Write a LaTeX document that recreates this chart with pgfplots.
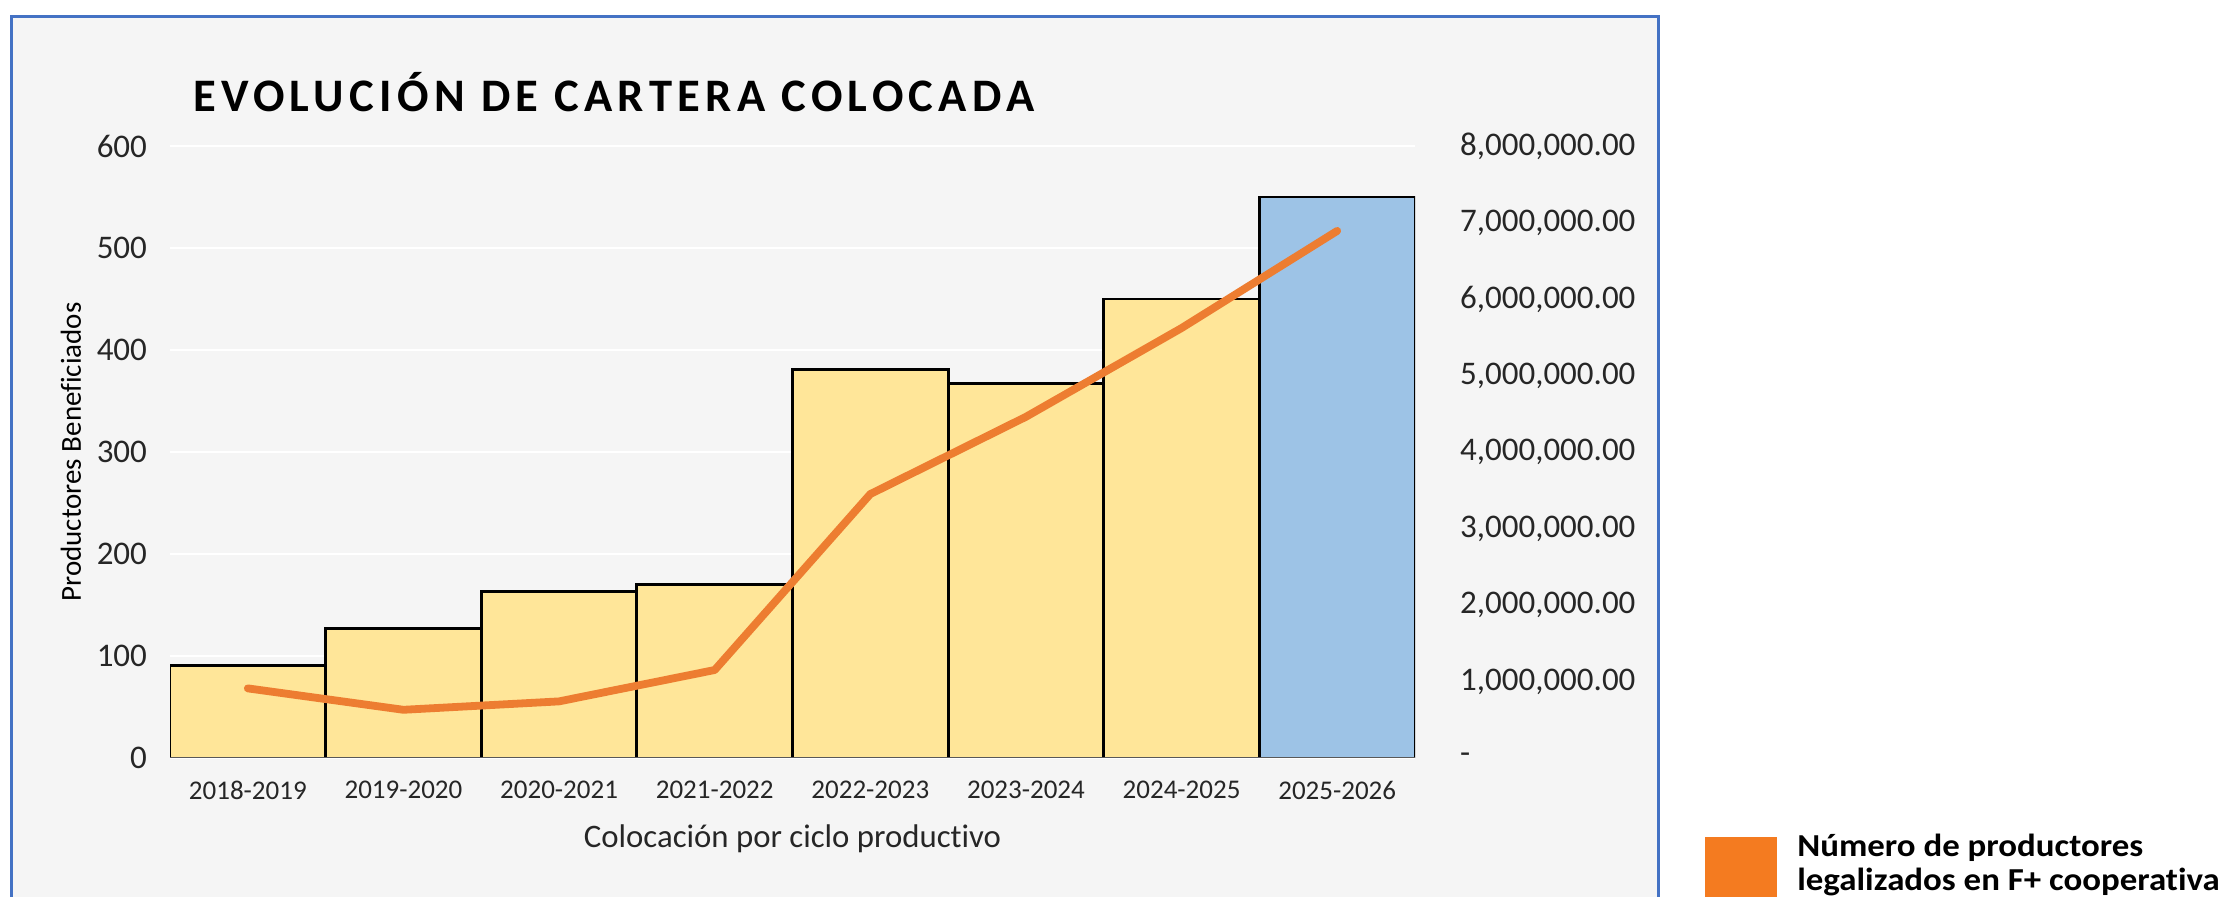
\documentclass[border=0pt]{standalone}
\usepackage{fontspec}
\setmainfont{Carlito}[Ligatures=NoCommon]
\newfontfamily\titlefont[LetterSpace=11.5]{Carlito}
\newfontfamily\legfont[FakeStretch=1.09, Ligatures=NoCommon]{Carlito}
\usepackage{pgfplots}
\pgfplotsset{compat=1.18}

\definecolor{barY}{HTML}{FFE699}
\definecolor{barB}{HTML}{9DC3E6}
\definecolor{lineO}{HTML}{ED7D31}
\definecolor{legO}{HTML}{F47B20}
\definecolor{frameB}{HTML}{4472C4}
\definecolor{bgG}{HTML}{F5F5F5}
\definecolor{axisC}{HTML}{595959}

\begin{document}
\begin{tikzpicture}
\useasboundingbox (0,0) rectangle (1111pt,448.5pt);
\fill[white] (0,0) rectangle (1111pt,448.5pt);
\filldraw[fill=bgG, draw=frameB, line width=1.5pt] (5.5pt,-10pt) rectangle (829pt,440pt);

% bars: productores beneficiados
\begin{axis}[
  at={(85pt,69.5pt)}, anchor=south west,
  scale only axis, width=622.5pt, height=306pt,
  xmin=-0.5, xmax=7.5, ymin=0, ymax=600,
  enlarge x limits=false,
  ybar, bar width=1, bar shift=0pt,
  axis line style={draw=none}, major tick length=0pt,
  ymajorgrids, grid style={color=white, line width=0.8pt},
  xtick={0,1,2,3,4,5,6,7},
  xticklabels={2018-2019,2019-2020,2020-2021,2021-2022,2022-2023,2023-2024,2024-2025,2025-2026},
  ytick={0,100,200,300,400,500,600},
  yticklabels={0,100,200,300,400,500,600},
  xticklabel style={font=\fontsize{13.5}{15}\selectfont, text=black!85, yshift=-8pt},
  yticklabel style={font=\fontsize{16.5}{18}\selectfont, text=black!85, xshift=-8pt},
  xlabel={Colocación por ciclo productivo},
  ylabel={Productores Beneficiados},
  every axis x label/.style={at={(axis description cs:0.5,-0.132)}, anchor=center, font=\fontsize{16.4}{18}\selectfont, text=black!85},
  every axis y label/.style={at={(axis description cs:-0.0795,0.5)}, rotate=90, anchor=center, font=\fontsize{14.5}{16}\selectfont, text=black},
]
\addplot[fill=barY, draw=black, line width=1.4pt] coordinates {
  (0,91) (1,127) (2,163) (3,170) (4,381) (5,367) (6,450)
};
\addplot[fill=barB, draw=black, line width=1.4pt] coordinates {
  (7,550)
};
\draw[axisC, line width=1pt] (axis cs:-0.5,0) -- (axis cs:7.5,0);
\end{axis}

% line: cartera colocada (right axis)
\begin{axis}[
  at={(85pt,69.5pt)}, anchor=south west,
  scale only axis, width=622.5pt, height=306pt,
  xmin=-0.5, xmax=7.5, ymin=0, ymax=8000000,
  axis y line*=right, axis x line=none,
  axis line style={draw=none}, major tick length=0pt,
  scaled y ticks=false,
  ytick={0,1000000,2000000,3000000,4000000,5000000,6000000,7000000,8000000},
  yticklabels={-,{1,000,000.00},{2,000,000.00},{3,000,000.00},{4,000,000.00},{5,000,000.00},{6,000,000.00},{7,000,000.00},{8,000,000.00}},
  yticklabel style={anchor=west, font=\fontsize{16.5}{18}\selectfont, text=black!85, xshift=19pt},
  legend style={at={(1.2329,-0.1176)}, anchor=north west, draw=none, fill=none,
    inner sep=0pt, font=\legfont\bfseries\fontsize{16}{17}\selectfont, cells={align=left}},
  legend image code/.code={\path[draw=none] (0pt,0pt) -- (44pt,0pt);
    \fill[legO, draw=none, overlay] (0pt,-40pt) rectangle (36pt,13.5pt);},
]
\addplot[color=lineO, line width=3.9pt, line join=round, line cap=round, mark=none] coordinates {
  (0,910000) (1,630000) (2,740000) (3,1150000) (4,3450000) (5,4460000) (6,5620000) (7,6890000)
};
\addlegendentry{Número de productores\\legalizados en F+ cooperativa}
\end{axis}

\node[anchor=west, font=\titlefont\bfseries\fontsize{23.3}{26}\selectfont] at (93pt,402.5pt) {EVOLUCIÓN DE CARTERA COLOCADA};
\end{tikzpicture}
\end{document}
